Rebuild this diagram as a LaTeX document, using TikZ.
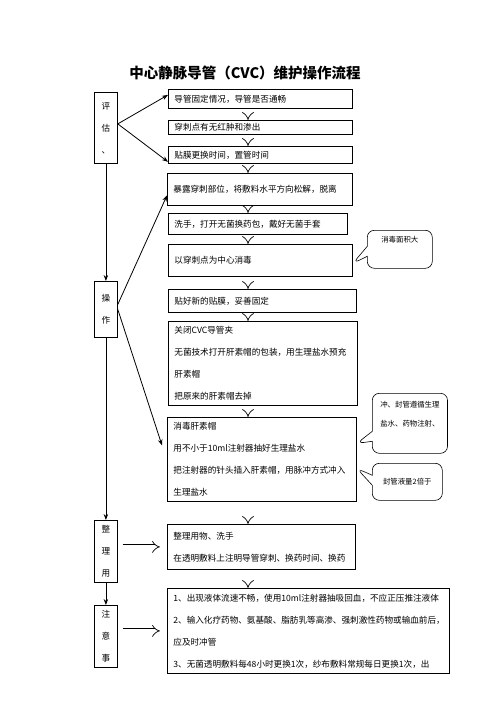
\documentclass[tikz,border=0pt]{standalone}
\usepackage{fontspec}
\setmainfont{Noto Sans CJK SC}
\usetikzlibrary{positioning,arrows.meta,shapes.callouts}

\tikzset{
  stepbox/.style={draw, line width=0.8pt, anchor=north west, align=left, inner xsep=6pt, inner ysep=0pt, font=\fontsize{8.6}{22}\selectfont},
  sidebox/.style={draw, line width=0.8pt, anchor=north west, align=center, inner sep=0pt, minimum width=23pt, font=\fontsize{8.6}{22}\selectfont},
  notebox/.style={draw, line width=0.6pt, rectangle callout, rounded corners=7pt, callout pointer width=10pt, anchor=north west, align=left, inner xsep=8pt, inner ysep=0pt, font=\fontsize{7.4}{19}\selectfont},
  flow/.style={line width=0.8pt, -{Stealth[length=6pt,width=4.5pt]}},
  hollow/.style={double, double distance=3.5pt, line width=0.7pt, -{Implies}},
}

\begin{document}
\begin{tikzpicture}[x=1pt, y=-1pt]
\useasboundingbox (0,0) rectangle (496,702);
% Title
\node[font=\fontsize{14.5}{16}\selectfont\bfseries] (title) at (245,73) {中心静脉导管（CVC）维护操作流程};
% Left column
\node[sidebox, minimum height=71pt] (L1) at (94,92) {评\\估\\、};
\node[sidebox, minimum height=56pt] (L2) at (94,281) {操\\作};
\node[sidebox, minimum height=62pt] (L3) at (94,520) {整\\理\\用};
\node[sidebox, minimum height=62pt] (L4) at (94,605) {注\\意\\事};
% Steps
\node[stepbox, text width=172pt, minimum height=19pt] (b1) at (168,89) {导管固定情况，导管是否通畅};
\node[stepbox, text width=172pt, minimum height=14pt] (b2) at (168,120) {穿刺点有无红肿和渗出};
\node[stepbox, text width=172pt, minimum height=17pt] (b3) at (168,146) {贴膜更换时间，置管时间};
\node[stepbox, text width=173pt, minimum height=32pt] (b4) at (167,173) {暴露穿刺部位，将敷料水平方向松解，脱离};
\node[stepbox, text width=167pt, minimum height=21pt] (b5) at (168,213) {洗手，打开无菌换药包，戴好无菌手套};
\node[stepbox, text width=172pt, minimum height=32pt] (b6) at (168,244) {以穿刺点为中心消毒};
\node[stepbox, text width=176pt, minimum height=23pt] (b7) at (168,289) {贴好新的贴膜，妥善固定};
\node[stepbox, text width=177pt, minimum height=84pt] (b8) at (168,321) {关闭CVC导管夹\\无菌技术打开肝素帽的包装，用生理盐水预充\\肝素帽\\把原来的肝素帽去掉};
\node[stepbox, text width=177pt, minimum height=84pt] (b9) at (167,417) {消毒肝素帽\\用不小于10ml注射器抽好生理盐水\\把注射器的针头插入肝素帽，用脉冲方式冲入\\生理盐水};
\node[stepbox, text width=176pt, minimum height=45pt] (b10) at (167,524) {整理用物、洗手\\在透明敷料上注明导管穿刺、换药时间、换药};
\node[stepbox, text width=270pt, minimum height=85pt] (b11) at (167,588) {1、出现液体流速不畅，使用10ml注射器抽吸回血，不应正压推注液体\\2、输入化疗药物、氨基酸、脂肪乳等高渗、强刺激性药物或输血前后，\\应及时冲管\\3、无菌透明敷料每48小时更换1次，纱布敷料常规每日更换1次，出};
% Notes
\node[notebox, minimum width=65pt, minimum height=38pt, callout absolute pointer={([yshift=-3pt]b6.east)}] (c1) at (367,230) {消毒面积大\\\mbox{}};
\node[notebox, minimum width=74pt, minimum height=60pt, callout absolute pointer={([yshift=16pt]b9.east)}] (c2) at (372,393) {冲、封管遵循生理\\盐水、药物注射、\\\mbox{}};
\node[notebox, minimum width=70pt, minimum height=37pt, callout absolute pointer={([yshift=-9pt]b9.east)}] (c3) at (372,463) {封管液量2倍于};
% Lines
\coordinate (axis) at (248,0);
\draw[flow] (L1.south) -- (L2.north);
\draw[flow] (L2.south) -- (L3.north);
\draw[flow] (L3.south) -- (L4.north);
\draw[flow] ([yshift=4pt]L1.east) -- ([yshift=4pt]b1.west);
\draw[flow] ([yshift=4pt]L1.east) -- ([yshift=2pt]b3.south west);
\draw[flow] ([yshift=5pt]L2.east) -- ([yshift=-6pt]b4.west);
\draw[flow] (L2.east) -- ([xshift=-5pt,yshift=14pt]b9.west);
\foreach \a/\b in {b1/b2,b2/b3,b3/b4,b4/b5,b5/b6,b6/b7,b7/b8,b8/b9,b9/b10,b10/b11}
  \draw[hollow] (\a.south -| axis) -- (\b.north -| axis);
\draw[hollow] ([xshift=5pt]L3.east |- b10.west) -- ([xshift=-7pt]b10.west);
\draw[hollow] ([xshift=5pt]L4.east |- b11.west) -- ([xshift=-7pt]b11.west);
\end{tikzpicture}
\end{document}
